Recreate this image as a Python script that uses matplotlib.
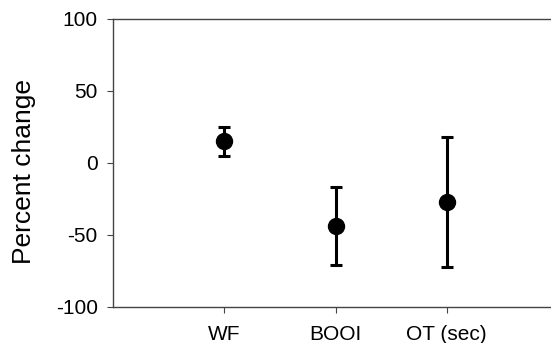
import matplotlib
matplotlib.use('Agg')
import matplotlib.pyplot as plt

categories = ['WF', 'BOOI', 'OT (sec)']
means = [15, -43.5, -27]
err_low = [10, 27, 45.5]
err_high = [10, 26.5, 45]

plt.rcParams['font.family'] = ['Liberation Sans', 'DejaVu Sans']
plt.rcParams['axes.unicode_minus'] = False

fig = plt.figure(figsize=(5.51, 3.43), dpi=100)
ax = fig.add_axes([113 / 551, 1 - 307 / 343, 445 / 551, 288 / 343])

x = list(range(1, len(categories) + 1))
ax.errorbar(x, means, yerr=[err_low, err_high], fmt='o', color='black',
            markersize=11.5, elinewidth=2.2, capsize=4, capthick=2.2)

ax.set_xlim(0, 4)
ax.set_ylim(-100, 100)
ax.set_yticks([-100, -50, 0, 50, 100])
ax.set_xticks(x)
ax.set_xticklabels(categories)
ax.set_ylabel('Percent change', fontsize=19)
ax.yaxis.set_label_coords(-0.173, 0.472)
ax.tick_params(labelsize=15, length=4, color='#444444')
ax.tick_params(axis='y', pad=7)
ax.tick_params(axis='x', pad=9)
ax.spines['right'].set_visible(False)
for s in ['left', 'bottom', 'top']:
    ax.spines[s].set_color('#444444')
    ax.spines[s].set_linewidth(1.0)

fig.savefig('out.png', dpi=100)
